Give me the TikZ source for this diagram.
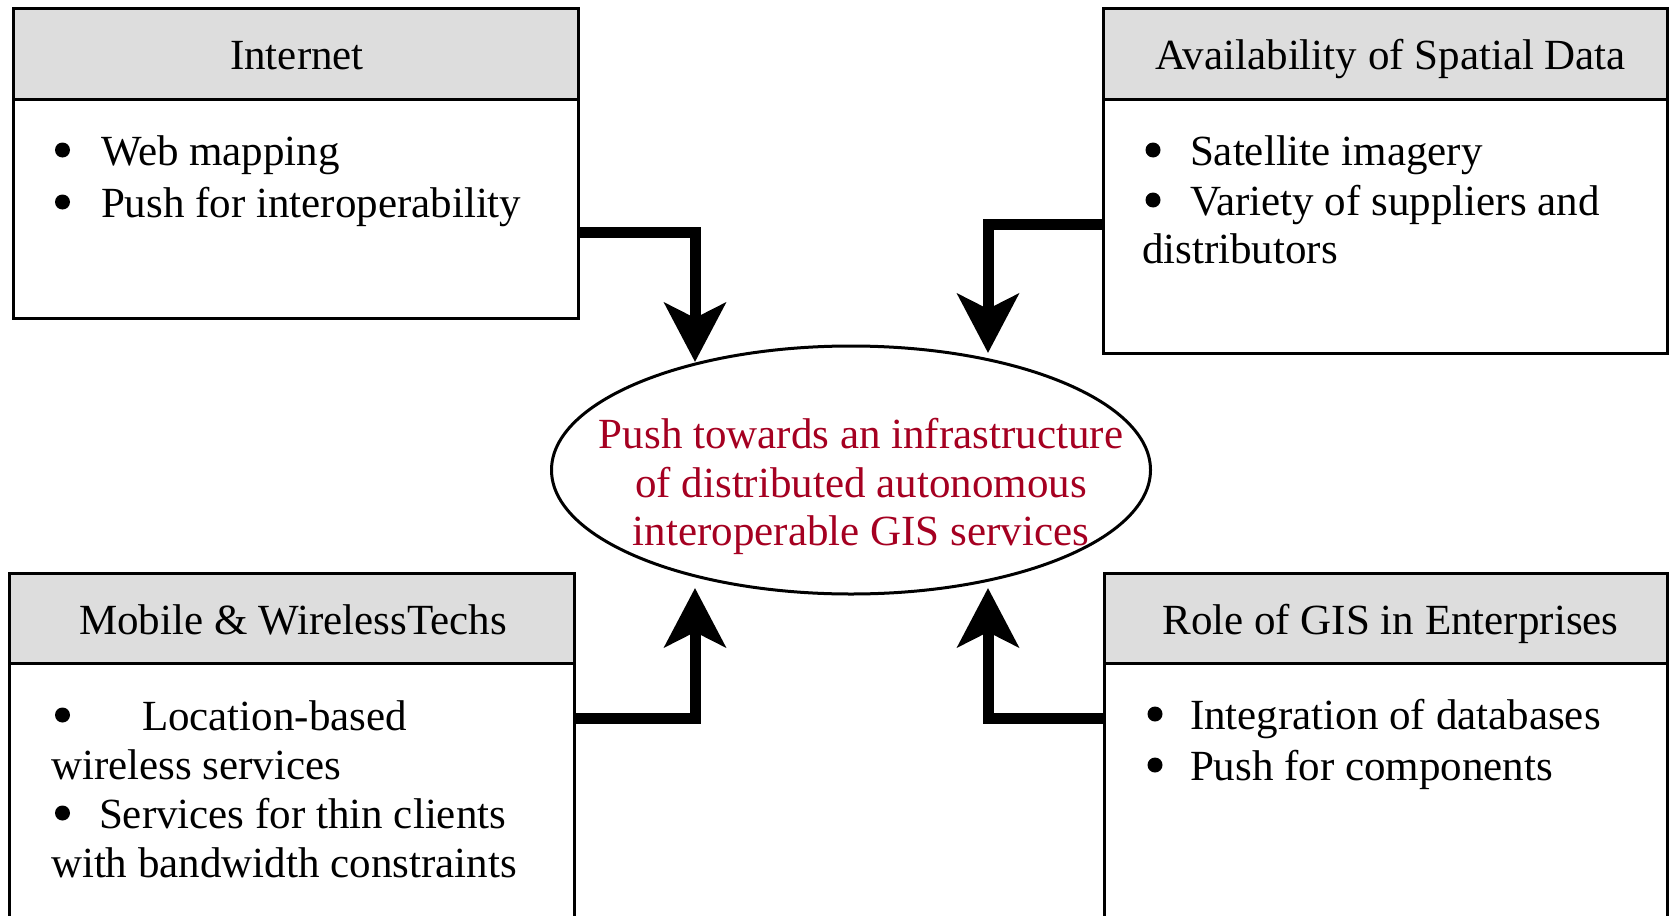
\documentclass[tikz,border=0pt]{standalone}
\usepackage{fontspec}
\setmainfont{Liberation Serif}
\usetikzlibrary{arrows.meta,shapes.geometric}
\definecolor{hdrgray}{RGB}{221,221,221}
\definecolor{hubred}{RGB}{165,0,33}
\newcommand{\bodyfont}{\fontsize{43}{50}\selectfont}
\begin{document}
\begin{tikzpicture}[x=1pt,y=-1pt,
  every node/.style={inner sep=0pt, outer sep=0pt},
  hdr/.style={draw, line width=3pt, fill=hdrgray, rectangle, anchor=north west,
    minimum height=91pt, font=\bodyfont, text height=32pt, text depth=0pt},
  panel/.style={draw, line width=3pt, fill=white, rectangle, anchor=north west},
  line/.style={font=\bodyfont, anchor=base west},
  dot/.style={circle, fill=black, minimum size=15pt},
  hubline/.style={font=\bodyfont, anchor=base, text=hubred},
  push/.style={line width=11pt, line join=miter,
    -{Stealth[length=59pt, width=61pt, inset=15pt]}},
]
\clip (0,0) rectangle (1669,915);
\fill[white] (0,0) rectangle (1669,915);

% Internet
\node[hdr, minimum width=565pt] (tlh) at (13,8.5) {\hspace{3pt}Internet};
\node[panel, minimum width=565pt, minimum height=218.5pt] (tlp) at (tlh.south west) {};
\node[dot]  (tlb1) at (62.5,150) {};
\node[line] (tlt1) at (101,165)  {Web mapping};
\node[dot]  (tlb2) at (62.5,202) {};
\node[line] (tlt2) at (101,217)  {Push for interoperability};

% Availability of Spatial Data
\node[hdr, minimum width=564pt] (trh) at (1103,8.5) {\hspace{11pt}Availability of Spatial Data};
\node[panel, minimum width=564pt, minimum height=253.5pt] (trp) at (trh.south west) {};
\node[dot]  (trb1) at (1153,150) {};
\node[line] (trt1) at (1190,165) {Satellite imagery};
\node[dot]  (trb2) at (1153,200) {};
\node[line] (trt2) at (1190,215) {Variety of suppliers and};
\node[line] (trt3) at (1142,263) {distributors};

% Mobile & Wireless
\node[hdr, minimum width=565pt, minimum height=90pt] (blh) at (9,573) {\hspace{3pt}Mobile \& WirelessTechs};
\node[panel, minimum width=565pt, minimum height=300pt] (blp) at (blh.south west) {};
\node[dot]  (blb1) at (62.5,715) {};
\node[line] (blt1) at (142,730)  {Location-based};
\node[line] (blt2) at (51,779)   {wireless services};
\node[dot]  (blb2) at (62.5,813) {};
\node[line] (blt3) at (99,828)   {Services for thin clients};
\node[line] (blt4) at (51,877)   {with bandwidth constraints};

% Role of GIS in Enterprises
\node[hdr, minimum width=563pt, minimum height=90pt] (brh) at (1104,573) {\hspace{10pt}Role of GIS in Enterprises};
\node[panel, minimum width=563pt, minimum height=300pt] (brp) at (brh.south west) {};
\node[dot]  (brb1) at (1155,714) {};
\node[line] (brt1) at (1190,729) {Integration of databases};
\node[dot]  (brb2) at (1155,765) {};
\node[line] (brt2) at (1190,780) {Push for components};

% central goal
\node[ellipse, draw, line width=3pt, fill=white, minimum width=599pt, minimum height=248pt] (hub) at (851,470) {};
\node[hubline] (hub1) at (861,448) {Push towards an infrastructure};
\node[hubline] (hub2) at (861,497) {of distributed autonomous};
\node[hubline] (hub3) at (861,545) {interoperable GIS services};

% arrow tips near the ellipse
\coordinate (tltip) at (695,362);
\coordinate (trtip) at (988,353);
\coordinate (bltip) at (695,588);
\coordinate (brtip) at (988,588);

\draw[push] ([yshift=-132.5pt]tlh.south east) -| (tltip);
\draw[push] ([yshift=-124.5pt]trh.south west) -| (trtip);
\draw[push] ([yshift=-55pt]blh.south east) -| (bltip);
\draw[push] ([yshift=-55pt]brh.south west) -| (brtip);
\end{tikzpicture}
\end{document}
